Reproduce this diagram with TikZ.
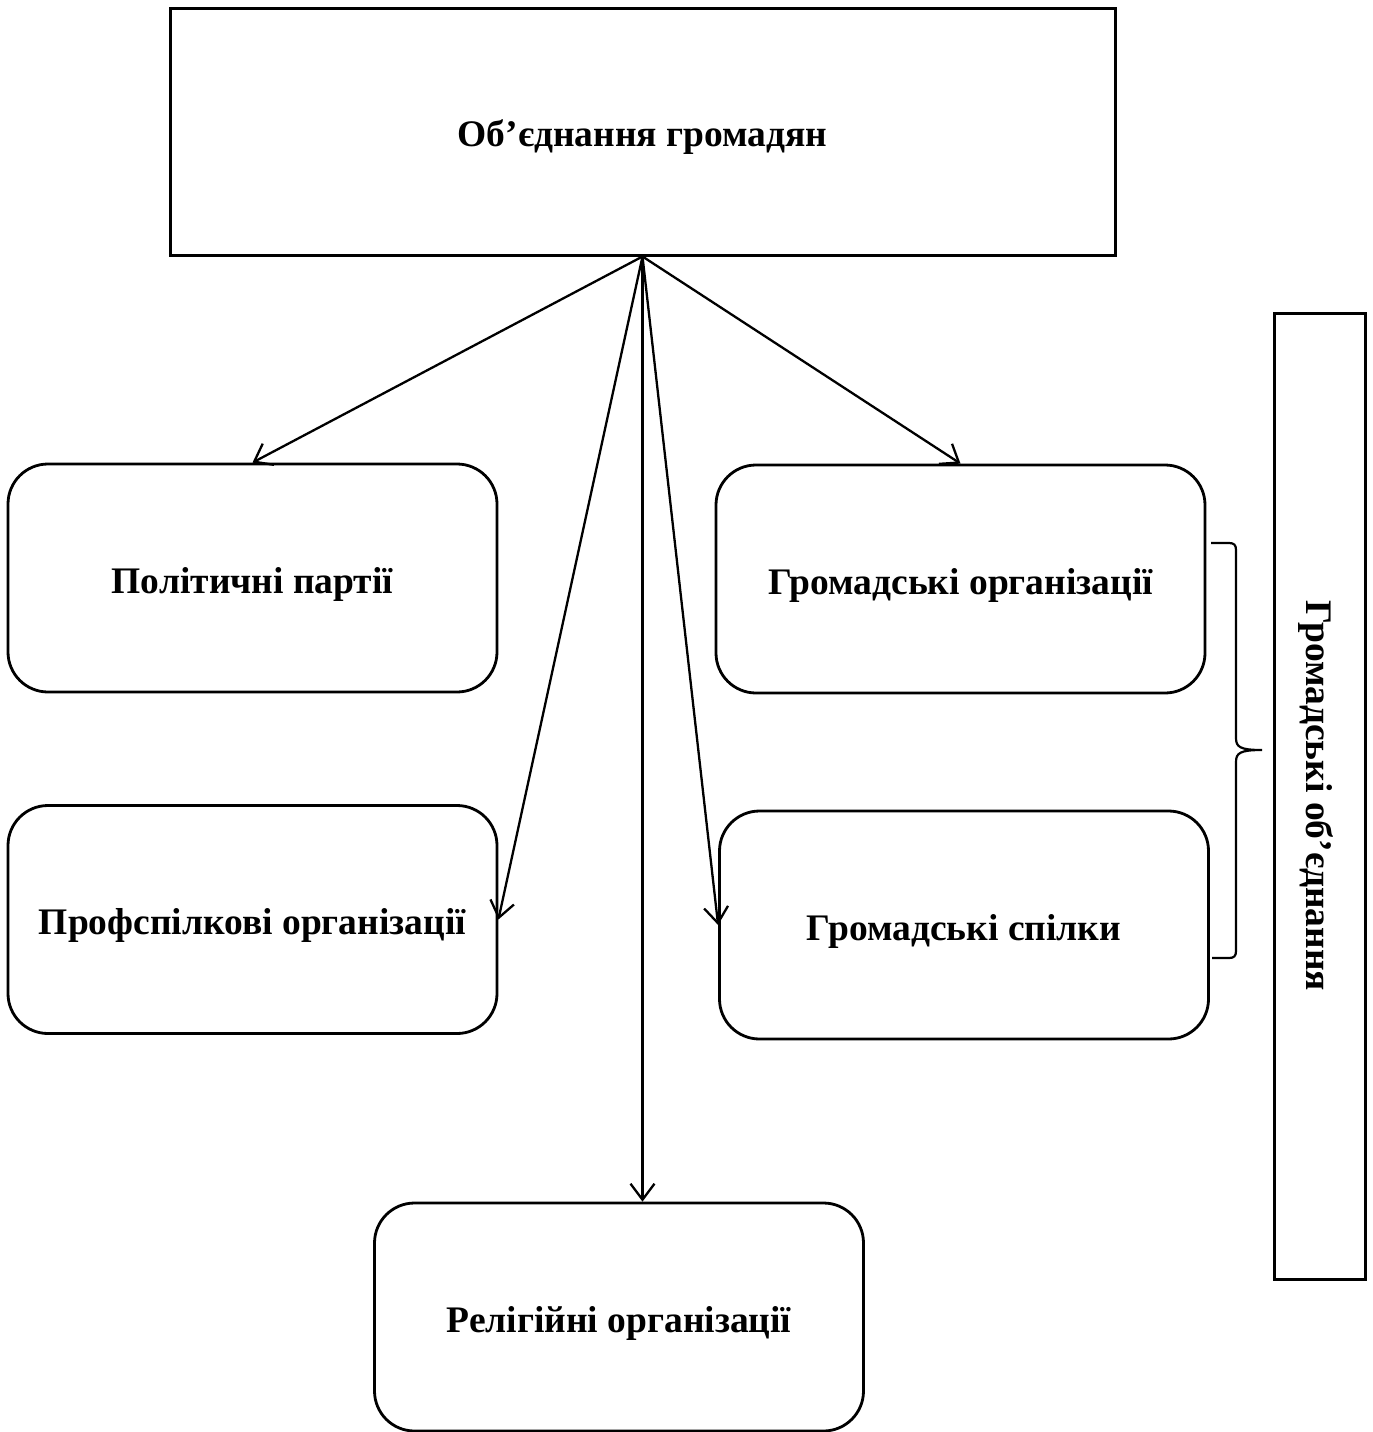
\documentclass[tikz,border=0pt]{standalone}
\usepackage{fontspec}
\setmainfont{Liberation Serif}
\usetikzlibrary{arrows.meta}
\begin{document}
\begin{tikzpicture}[x=1pt,y=-1pt,
  lbl/.style={font=\fontsize{37.5}{44}\selectfont\bfseries, text height=30pt, text depth=0pt},
  sqbox/.style={draw, line width=3pt, rectangle, inner sep=0pt},
  rbox/.style={draw, line width=2.8pt, rectangle, rounded corners=40pt, minimum width=489pt, minimum height=228pt, inner sep=0pt},
  conn/.style={line width=2.3pt, -{Straight Barb[length=16pt,width=24pt,line width=2.3pt]}}
]
\useasboundingbox (0,0) rectangle (1373,1432);
\node[sqbox, lbl, minimum width=945pt, minimum height=247pt] (top) at (642.5,131.5) {Об’єднання громадян};
\node[rbox, lbl] (pp) at (252.5,578) {Політичні партії};
\node[rbox, lbl] (pf) at (252.5,919.5) {Профспілкові організації};
\node[rbox, lbl] (go) at (960.5,579) {Громадські організації};
\node[rbox, lbl] (gs) at (964,925) {Громадські спілки};
\node[rbox, lbl] (rel) at (619,1317) {Релігійні організації};
\node[sqbox, lbl, text height=26pt, rotate=-90, minimum width=966pt, minimum height=91pt] (side) at (1319.5,796) {Громадські об’єднання};
\draw[conn] (top.south) -- (pp.north);
\draw[conn] (top.south) -- (go.north);
\draw[conn] (top.south) -- (pf.east);
\draw[conn] (top.south) -- (gs.west);
\draw[conn] (top.south) -- (top.south |- rel.north);
\coordinate (b1) at (1211,543);
\coordinate (b2) at (1262,750);
\coordinate (b3) at (1212,958);
\draw[line width=2.2pt] (b1) -- (1229,543) .. controls (1234,543) and (1236,545) .. (1236,550) -- (1236,738)
  .. controls (1236,747) and (1240,750) .. (b2)
  .. controls (1240,750) and (1236,753) .. (1236,762) -- (1236,951)
  .. controls (1236,956) and (1234,958) .. (1229,958) -- (b3);
\end{tikzpicture}
\end{document}
